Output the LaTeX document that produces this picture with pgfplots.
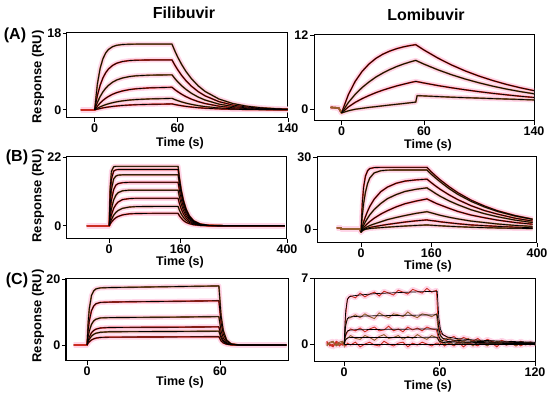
\documentclass[border=0pt]{standalone}
\usepackage{pgfplots}
\usepackage{pgfplotstable}
\pgfplotsset{compat=1.18}
\usepackage{fontspec}
\setmainfont{Liberation Sans}

\definecolor{halo}{RGB}{255,214,232}
\definecolor{dbrown}{RGB}{150,95,45}
\definecolor{dred}{RGB}{205,45,35}

\pgfplotstableread{
t c1 c2 c3 c4 c5 c6
-10 0 0 0 0 0 0
0 0 0 0 0 0 0
2 6.06 3.37 1.75 0.87 0.38 0.17
4 9.74 5.77 3.12 1.60 0.70 0.32
6 11.97 7.48 4.21 2.21 0.98 0.46
8 13.32 8.69 5.06 2.72 1.22 0.57
10 14.14 9.56 5.73 3.14 1.43 0.68
13 14.80 10.41 6.48 3.66 1.68 0.81
16 15.12 10.93 7.00 4.04 1.89 0.91
20 15.30 11.31 7.45 4.42 2.10 1.03
25 15.37 11.54 7.79 4.74 2.29 1.13
30 15.40 11.63 7.98 4.94 2.42 1.21
40 15.40 11.69 8.13 5.16 2.57 1.30
50 15.40 11.70 8.18 5.24 2.64 1.35
56 15.40 11.70 8.20 5.30 2.70 1.40
58 13.86 10.53 7.38 4.77 2.43 1.26
60 12.46 9.47 6.63 4.29 2.18 1.13
63 10.63 8.07 5.66 3.66 1.86 0.97
66 9.07 6.89 4.83 3.12 1.59 0.82
70 7.33 5.57 3.90 2.52 1.29 0.67
75 5.62 4.27 2.99 1.93 0.99 0.51
80 4.31 3.28 2.30 1.48 0.76 0.39
90 2.54 1.93 1.35 0.87 0.45 0.23
100 1.49 1.13 0.80 0.51 0.26 0.14
110 0.88 0.67 0.47 0.30 0.15 0.08
120 0.52 0.40 0.28 0.18 0.09 0.05
130 0.31 0.23 0.16 0.11 0.05 0.03
140 0.18 0.14 0.10 0.06 0.03 0.02
}\Aleft

\pgfplotstableread{
t c1 c2 c3 c4
-8 0.3 0.3 0.3 0.3
-2 0.2 0.2 0.2 0.2
0 -0.6 -0.6 -0.6 -0.6
5 2.36 1.09 0.37 -0.25
10 4.52 2.42 1.11 0.00
15 6.12 3.51 1.71 0.15
20 7.31 4.41 2.22 0.30
25 8.22 5.20 2.68 0.42
30 8.89 5.84 3.08 0.55
35 9.39 6.40 3.43 0.68
40 9.78 6.89 3.76 0.80
45 10.08 7.30 4.04 0.92
50 10.30 7.65 4.31 1.05
54 10.44 7.90 4.50 1.15
55 10.29 7.79 4.46 2.20
60 9.57 7.29 4.24 2.15
70 8.28 6.38 3.83 2.05
80 7.16 5.58 3.47 1.95
90 6.19 4.88 3.14 1.87
100 5.36 4.27 2.84 1.80
110 4.64 3.73 2.57 1.72
120 4.01 3.26 2.33 1.65
130 3.47 2.85 2.10 1.58
140 3.00 2.50 1.90 1.50
}\Aright

\pgfplotstableread{
t c1 c2 c3 c4 c5 c6 c7 c8
-50 0 0 0 0 0 0 0 0
0 0 0 0 0 0 0 0 0
2 12.0 9.05 6.4 4.2 2.6 1.6 0.9 0.52
5 17.4 14.9 11.6 8.2 5.4 3.5 2.0 1.18
10 18.9 17.5 15.0 11.6 8.3 5.6 3.4 2.0
15 19.0 17.9 15.9 13.0 9.8 6.8 4.3 2.6
20 19.0 18.0 16.2 13.5 10.6 7.6 4.9 3.0
30 19.0 18.0 16.3 13.8 11.2 8.4 5.6 3.5
45 19.0 18.0 16.3 13.9 11.4 8.7 6.0 3.83
60 19.0 18.0 16.3 13.9 11.4 8.8 6.15 3.94
100 19.0 18.0 16.3 13.9 11.4 8.8 6.2 4.0
155 19.0 18.0 16.3 13.9 11.4 8.8 6.2 4.0
158 15.4 14.6 13.2 11.3 9.2 7.1 5.0 3.2
162 11.6 11.0 10.0 8.5 7.0 5.4 3.8 2.5
167 8.2 7.8 7.0 6.0 4.9 3.8 2.7 1.7
173 5.4 5.1 4.6 3.9 3.2 2.5 1.8 1.1
180 3.3 3.1 2.8 2.4 2.0 1.5 1.1 0.70
190 1.6 1.55 1.4 1.2 0.98 0.76 0.53 0.34
205 0.57 0.54 0.49 0.42 0.34 0.26 0.19 0.12
225 0.14 0.13 0.12 0.10 0.08 0.07 0.05 0.03
260 0 0 0 0 0 0 0 0
395 0 0 0 0 0 0 0 0
}\Bleft

\pgfplotstableread{
t c1 c2 c3 c4 c5 c6 c7 c8
-55 0.6 0.6 0.6 0.6 0.6 0.6 0.6 0.6
-46 0.6 0.6 0.6 0.6 0.6 0.6 0.6 0.6
-45 0.1 0.1 0.1 0.1 0.1 0.1 0.1 0.1
-2 0.1 0.1 0.1 0.1 0.1 0.1 0.1 0.1
0 -1.2 -1.2 -1.2 -1.2 -1.2 -1.2 -1.2 -1.2
3 10.9 5.7 1.1 0.35 -0.17 -0.45 -0.58 -0.65
6 17.6 10.7 3.1 1.65 0.66 0.09 -0.17 -0.30
10 22.0 15.3 5.2 3.1 1.5 0.6 0.18 -0.03
15 24.3 19.0 7.5 4.6 2.4 1.08 0.47 0.15
20 25.2 21.3 9.5 6.0 3.2 1.54 0.75 0.32
30 25.6 23.4 12.5 8.2 4.6 2.2 1.09 0.47
45 25.7 24.3 15.6 10.7 6.3 3.1 1.56 0.68
60 25.7 24.55 17.5 12.7 7.7 4.0 2.0 0.88
80 25.7 24.6 19.1 14.4 9.3 4.9 2.5 1.12
100 25.7 24.6 20.0 15.7 10.6 5.7 3.0 1.34
125 25.7 24.6 20.5 16.6 11.7 6.6 3.5 1.58
150 25.7 24.6 20.8 17.2 12.6 7.3 3.9 1.8
152 25.3 24.2 20.5 16.9 12.4 7.2 3.8 1.77
160 23.8 22.8 19.3 16.0 11.7 6.8 3.6 1.67
170 22.1 21.2 17.9 14.8 10.8 6.3 3.4 1.55
180 20.5 19.7 16.6 13.7 10.1 5.8 3.1 1.44
200 17.7 16.9 14.3 11.8 8.7 5.0 2.7 1.24
220 15.2 14.5 12.3 10.2 7.4 4.3 2.3 1.06
250 12.1 11.6 9.8 8.1 5.9 3.4 1.8 0.85
280 9.7 9.3 7.8 6.5 4.8 2.8 1.5 0.68
310 7.7 7.4 6.3 5.2 3.8 2.2 1.2 0.54
350 5.7 5.5 4.6 3.8 2.8 1.6 0.87 0.40
390 4.2 4.1 3.4 2.8 2.1 1.2 0.64 0.30
}\Bright

\pgfplotstableread{
t c1 c2 c3 c4 c5 c6
-6 0 0 0 0 0 0
0 0 0 0 0 0 0
0.5 6.8 4.3 2.45 1.37 0.96 0.53
1 10.9 7.2 4.2 2.39 1.7 0.94
2 15.0 10.4 6.25 3.7 2.67 1.52
3 16.4 11.8 7.3 4.4 3.23 1.86
4 17.0 12.5 7.8 4.8 3.56 2.08
6 17.3 12.9 8.2 5.15 3.85 2.28
10 17.4 13.0 8.3 5.3 4.0 2.38
20 17.5 13.1 8.35 5.35 4.05 2.4
40 17.7 13.25 8.45 5.4 4.1 2.45
59.5 17.9 13.4 8.6 5.5 4.2 2.5
60.5 8.9 6.7 4.3 2.7 2.1 1.24
61.5 4.4 3.3 2.1 1.36 1.04 0.62
63 1.5 1.15 0.74 0.47 0.36 0.22
65 0.38 0.28 0.18 0.12 0.09 0.05
68 0.05 0.03 0.02 0.01 0.01 0.01
72 0 0 0 0 0 0
90 0 0 0 0 0 0
}\Cleft

\pgfplotstableread{
t c1 c2 c3 c4 c5
0 0 0 0 0 0
0.5 2.3 1.3 0.68 0.32 -0.05
1 3.6 2.05 1.05 0.49 -0.05
2 4.7 2.7 1.38 0.64 -0.05
3 5.0 2.85 1.46 0.68 -0.05
5 5.1 2.9 1.5 0.7 -0.05
10 5.2 2.95 1.52 0.7 -0.05
20 5.35 3.0 1.55 0.7 -0.05
40 5.5 3.05 1.58 0.7 -0.05
58.5 5.6 3.1 1.6 0.72 -0.05
59.5 2.8 1.6 0.85 0.38 -0.05
60.5 1.6 0.95 0.5 0.24 -0.05
62 1.0 0.62 0.35 0.17 -0.05
65 0.75 0.48 0.28 0.14 -0.05
70 0.6 0.4 0.23 0.12 -0.05
80 0.45 0.3 0.18 0.1 -0.05
100 0.3 0.2 0.12 0.07 -0.05
120 0.2 0.13 0.08 0.05 -0.05
}\Crightfit

\pgfplotstableread{
t d1 d2 d3 d4 d5
-11 0.2 -0.1 0.3 -0.2 0.1
-9 0.0 0.2 -0.2 0.1 -0.1
-7 -0.2 0.3 0.0 0.2 -0.3
-5 0.3 -0.2 0.1 -0.1 0.2
-3 0.1 0.0 -0.2 0.2 0.0
-1 -0.1 0.2 0.1 0.3 -0.1
0 0.1 -0.2 0.2 -0.1 0.0
1 3.2 2.0 0.9 0.5 -0.2
2 4.8 2.7 1.3 0.6 0.1
4 5.1 2.8 1.6 0.9 -0.1
7 4.9 3.1 1.4 0.6 0.2
10 5.4 2.8 1.7 0.5 -0.3
13 5.0 3.2 1.3 0.9 0.0
16 5.3 2.9 1.6 0.7 0.2
19 5.5 2.7 1.8 0.4 -0.1
22 5.1 3.3 1.4 0.8 -0.2
25 5.6 3.0 1.5 1.0 0.3
28 5.4 2.8 1.9 0.6 0.0
31 5.2 3.2 1.4 0.7 -0.2
34 5.7 3.1 1.6 0.9 0.1
37 5.5 2.9 1.3 0.5 0.2
40 5.3 3.4 1.8 0.8 -0.3
43 5.8 3.0 1.5 0.6 0.1
46 5.6 2.8 1.7 1.0 -0.1
49 5.4 3.2 1.4 0.7 0.2
52 5.9 3.1 1.8 0.5 0.0
55 5.5 2.9 1.6 0.9 -0.2
58 5.7 3.2 1.5 0.7 0.1
59 2.6 1.7 0.8 0.5 0.1
60 1.5 1.0 0.5 0.2 -0.1
61 1.1 0.7 0.3 0.4 0.2
63 0.9 0.5 0.5 0.0 -0.2
66 0.6 0.7 0.2 0.3 0.1
69 0.8 0.3 0.4 -0.1 -0.2
72 0.4 0.5 0.1 0.3 0.2
75 0.7 0.2 0.3 0.0 -0.3
78 0.5 0.6 0.0 0.2 0.1
81 0.3 0.2 0.4 -0.2 0.0
84 0.6 0.4 -0.1 0.3 -0.2
87 0.2 0.1 0.3 0.1 0.2
90 0.5 0.4 0.0 -0.2 -0.1
93 0.3 0.0 0.3 0.2 0.1
96 0.1 0.3 -0.1 0.0 -0.3
99 0.4 0.1 0.2 0.2 0.2
102 0.2 -0.1 0.0 -0.1 -0.1
105 0.3 0.3 0.2 0.1 0.0
108 0.0 0.1 -0.2 -0.2 0.2
111 0.3 -0.1 0.1 0.2 -0.2
114 0.1 0.2 0.0 -0.1 0.1
117 0.2 0.0 0.2 0.1 -0.1
120 0.0 0.1 -0.1 -0.1 0.1
}\Crightdata

\pgfplotsset{
  panel/.style={
    scale only axis, anchor=south west,
    axis line style={line width=1pt, black},
    tick style={line width=0.9pt, black},
    tick align=outside, xtick pos=bottom, ytick pos=left,
    major tick length=4pt,
    ticklabel style={font=\fontsize{12.5}{13}\selectfont\bfseries},
    /pgf/number format/assume math mode=true,
    xticklabel style={inner sep=1pt, yshift=-1pt},
    yticklabel style={inner sep=1.5pt},
  },
  halo/.style={draw=halo, line width=5pt, no markers, line join=round},
  dB/.style={draw=dbrown, line width=1.6pt, no markers, line join=round},
  dR/.style={draw=dred, line width=1.6pt, no markers, line join=round},
  fit/.style={draw=black, line width=0.7pt, no markers, line join=round, restrict x to domain=-0.01:1000},
}

\begin{document}
\begin{tikzpicture}[x=1pt,y=1pt]
\useasboundingbox (0,0) rectangle (550,396);

% ---------- A left ----------
\begin{axis}[panel, at={(67pt,278pt)}, width=221pt, height=85pt,
  xmin=-20, xmax=140, ymin=-1.9, ymax=18, xtick={0,60,140}, ytick={0,18}]
\pgfplotsinvokeforeach{c1,c2,c3,c4,c5,c6}{\addplot[halo] table[x=t,y=#1]{\Aleft};}
\pgfplotsinvokeforeach{c1,c3,c5}{\addplot[dB] table[x=t,y=#1]{\Aleft};}
\pgfplotsinvokeforeach{c2,c4,c6}{\addplot[dR] table[x=t,y=#1]{\Aleft};}
\pgfplotsinvokeforeach{c1,c2,c3,c4,c5,c6}{\addplot[fit] table[x=t,y=#1]{\Aleft};}
\end{axis}

% ---------- A right ----------
\begin{axis}[panel, at={(314pt,275pt)}, width=220pt, height=86pt,
  xmin=-20, xmax=140, ymin=-1.9, ymax=12, xtick={0,60,140}, ytick={0,12}]
\pgfplotsinvokeforeach{c1,c2,c3,c4}{\addplot[halo] table[x=t,y=#1]{\Aright};}
\pgfplotsinvokeforeach{c1,c3}{\addplot[dR] table[x=t,y=#1]{\Aright};}
\pgfplotsinvokeforeach{c2,c4}{\addplot[dB] table[x=t,y=#1]{\Aright};}
\pgfplotsinvokeforeach{c1,c2,c3,c4}{\addplot[fit] table[x=t,y=#1]{\Aright};}
\end{axis}

% ---------- B left ----------
\begin{axis}[panel, at={(67pt,157pt)}, width=220pt, height=82pt,
  xmin=-95, xmax=400, ymin=-4.2, ymax=22, xtick={0,160,400}, ytick={0,22}]
\pgfplotsinvokeforeach{c1,c2,c3,c4,c5,c6,c7,c8}{\addplot[halo] table[x=t,y=#1]{\Bleft};}
\pgfplotsinvokeforeach{c1,c3,c5,c7}{\addplot[dB] table[x=t,y=#1]{\Bleft};}
\pgfplotsinvokeforeach{c2,c4,c6,c8}{\addplot[dR] table[x=t,y=#1]{\Bleft};}
\pgfplotsinvokeforeach{c1,c2,c3,c4,c5,c6,c7,c8}{\addplot[fit] table[x=t,y=#1]{\Bleft};}
\end{axis}

% ---------- B right ----------
\begin{axis}[panel, at={(317pt,153pt)}, width=220pt, height=86pt,
  xmin=-100, xmax=400, ymin=-5.7, ymax=30, xtick={0,160,400}, ytick={0,30}]
\pgfplotsinvokeforeach{c1,c2,c3,c4,c5,c6,c7,c8}{\addplot[halo] table[x=t,y=#1]{\Bright};}
\pgfplotsinvokeforeach{c1,c3,c5,c7}{\addplot[dR] table[x=t,y=#1]{\Bright};}
\pgfplotsinvokeforeach{c2,c4,c6,c8}{\addplot[dB] table[x=t,y=#1]{\Bright};}
\pgfplotsinvokeforeach{c1,c2,c3,c4,c5,c6,c7,c8}{\addplot[fit] table[x=t,y=#1]{\Bright};}
\end{axis}

% ---------- C left ----------
\begin{axis}[panel, at={(66pt,35pt)}, width=222pt, height=82pt,
  xmin=-9.5, xmax=90.7, ymin=-4.85, ymax=20, xtick={0,60}, ytick={0,20}]
\pgfplotsinvokeforeach{c1,c2,c3,c4,c5,c6}{\addplot[halo] table[x=t,y=#1]{\Cleft};}
\pgfplotsinvokeforeach{c1,c3,c5}{\addplot[dB] table[x=t,y=#1]{\Cleft};}
\pgfplotsinvokeforeach{c2,c4,c6}{\addplot[dR] table[x=t,y=#1]{\Cleft};}
\pgfplotsinvokeforeach{c1,c2,c3,c4,c5,c6}{\addplot[fit] table[x=t,y=#1]{\Cleft};}
\end{axis}

% ---------- C right ----------
\begin{axis}[panel, at={(314pt,34pt)}, width=221pt, height=84pt,
  xmin=-19, xmax=120, ymin=-1.9, ymax=7, xtick={0,60,120}, ytick={0,7}]
\pgfplotsinvokeforeach{d1,d2,d3,d4,d5}{\addplot[halo] table[x=t,y=#1]{\Crightdata};}
\pgfplotsinvokeforeach{d1,d3,d5}{\addplot[draw=dred, line width=0.9pt, no markers] table[x=t,y=#1]{\Crightdata};}
\pgfplotsinvokeforeach{d2,d4}{\addplot[draw=dbrown, line width=0.9pt, no markers] table[x=t,y=#1]{\Crightdata};}
\pgfplotsinvokeforeach{c1,c2,c3,c4,c5}{\addplot[fit] table[x=t,y=#1]{\Crightfit};}
\end{axis}

% ---------- text ----------
\begin{scope}[every node/.style={font=\bfseries}]
\node[font=\fontsize{16}{16}\selectfont\bfseries] at (184,383) {Filibuvir};
\node[font=\fontsize{16}{16}\selectfont\bfseries] at (426,381) {Lomibuvir};
\node[font=\fontsize{16}{16}\selectfont\bfseries] at (15,361) {(A)};
\node[font=\fontsize{16}{16}\selectfont\bfseries] at (17,239) {(B)};
\node[font=\fontsize{16}{16}\selectfont\bfseries] at (17,116) {(C)};
\node[font=\fontsize{13}{13}\selectfont\bfseries, rotate=90] at (38,319) {Response (RU)};
\node[font=\fontsize{13}{13}\selectfont\bfseries, rotate=90] at (38,200) {Response (RU)};
\node[font=\fontsize{13}{13}\selectfont\bfseries, rotate=90] at (38,80) {Response (RU)};
\node[font=\fontsize{12.5}{13}\selectfont\bfseries] at (180,253) {Time (s)};
\node[font=\fontsize{12.5}{13}\selectfont\bfseries] at (428,251) {Time (s)};
\node[font=\fontsize{12.5}{13}\selectfont\bfseries] at (180,134) {Time (s)};
\node[font=\fontsize{12.5}{13}\selectfont\bfseries] at (428,130) {Time (s)};
\node[font=\fontsize{12.5}{13}\selectfont\bfseries] at (180,14) {Time (s)};
\node[font=\fontsize{12.5}{13}\selectfont\bfseries] at (428,10) {Time (s)};
\end{scope}
\end{tikzpicture}
\end{document}
